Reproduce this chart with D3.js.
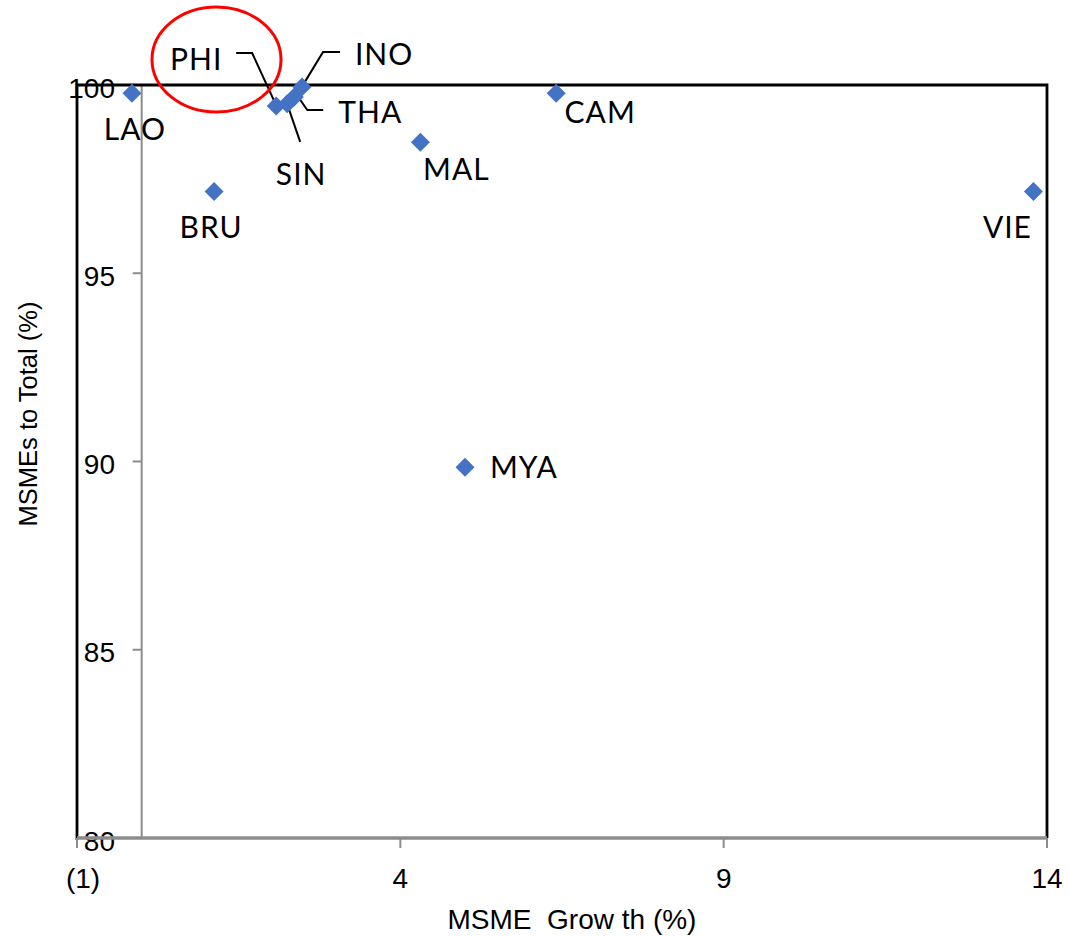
<!DOCTYPE html>
<html>
<head>
<meta charset="utf-8">
<script src="https://cdn.jsdelivr.net/npm/d3@7"></script>
<style>
  body { margin: 0; background: #fff; }
  svg { display: block; }
  .tick-label { font-family: "Liberation Sans", Arial, sans-serif; font-size: 28px; fill: #000; }
  .axis-title { font-family: "Liberation Sans", Arial, sans-serif; font-size: 25px; fill: #000; }
  .point-label { font-family: Lato, "Open Sans", sans-serif; font-size: 30px; fill: #000; letter-spacing: 1px; }
</style>
</head>
<body>
<div id="chart"></div>
<script>

// Data
let countries = ["LAO", "BRU", "PHI", "SIN", "THA", "INO", "MAL", "CAM", "MYA", "VIE"];
let growth = [-0.15, 1.12, 2.08, 2.25, 2.36, 2.48, 4.31, 6.41, 5.0, 13.79];
let share = [99.78, 97.17, 99.44, 99.5, 99.68, 99.95, 98.48, 99.78, 89.85, 97.17];

let xTicks = [-1, 4, 9, 14];
let yTicks = [80, 85, 90, 95, 100];

// label placement (pixels, from point to label centre/baseline)
let labelDx = [3, -3, -80, 14, 76, 82, 36, 44, 59, -26];
let labelDy = [47, 46, -36, 81, 26, -22, 38, 30, 11, 46];

// leader lines for the crowded labels (pixels relative to the point)
let leaders = {
    PHI: [[-40, -53], [-24, -53], [-1, -3]],
    SIN: [[13, 38], [1, 3]],
    INO: [[38, -35], [21, -35], [1, -2]],
    THA: [[29, 13], [13, 13], [4, 0]]
};

let data = countries.map(function(c, i) {
    return { name: c, x: growth[i], y: share[i], dx: labelDx[i], dy: labelDy[i] };
});

let width = 1069, height = 936;
let margin = { top: 85, right: 22, bottom: 98, left: 77 };

let svg = d3.select("#chart").append("svg")
    .attr("width", width)
    .attr("height", height);

let x = d3.scaleLinear()
    .domain([-1, 14])
    .range([margin.left, width - margin.right]);

let y = d3.scaleLinear()
    .domain([80, 100])
    .range([height - margin.bottom, margin.top]);

let fmt = function(d) { return d < 0 ? "(" + Math.abs(d) + ")" : d; };

// gray y axis at x = 0
svg.append("line")
    .attr("x1", x(0)).attr("x2", x(0))
    .attr("y1", y(100)).attr("y2", y(80))
    .attr("stroke", "#8c8c8c")
    .attr("stroke-width", 2);

svg.selectAll(".ytick")
    .data(yTicks.slice(1, 4))
    .enter().append("line")
    .attr("x1", x(0) - 9).attr("x2", x(0))
    .attr("y1", d => y(d)).attr("y2", d => y(d))
    .attr("stroke", "#8c8c8c")
    .attr("stroke-width", 2);

// y tick labels
svg.selectAll(".ylabel")
    .data(yTicks)
    .enter().append("text")
    .attr("class", "tick-label")
    .attr("x", 115)
    .attr("y", d => y(d) + 3)
    .attr("text-anchor", "end")
    .attr("dominant-baseline", "central")
    .text(d => d);

// x tick labels
svg.selectAll(".xlabel")
    .data(xTicks)
    .enter().append("text")
    .attr("class", "tick-label")
    .attr("x", d => x(d) + (d < 0 ? 6 : 0))
    .attr("y", 888)
    .attr("text-anchor", "middle")
    .text(fmt);

// black frame (left, top, right)
svg.append("path")
    .attr("d", "M" + x(-1) + "," + (y(80) + 2) + "V" + y(100) + "H" + x(14) + "V" + y(80))
    .attr("fill", "none")
    .attr("stroke", "#000")
    .attr("stroke-width", 2.8);

// gray x axis
svg.append("line")
    .attr("x1", x(-1)).attr("x2", x(14))
    .attr("y1", y(80)).attr("y2", y(80))
    .attr("stroke", "#8c8c8c")
    .attr("stroke-width", 3.5);

svg.selectAll(".xtick")
    .data(xTicks)
    .enter().append("line")
    .attr("x1", d => x(d)).attr("x2", d => x(d))
    .attr("y1", y(80)).attr("y2", y(80) + 10)
    .attr("stroke", "#8c8c8c")
    .attr("stroke-width", 2);

// axis titles
svg.append("text")
    .attr("class", "axis-title")
    .attr("x", 572)
    .attr("y", 929)
    .attr("text-anchor", "middle")
    .style("font-size", "28px")
    .style("white-space", "pre")
    .text("MSME  Grow th (%)");

svg.append("text")
    .attr("class", "axis-title")
    .attr("transform", "translate(37,414) rotate(-90)")
    .attr("text-anchor", "middle")
    .style("font-size", "25.5px")
    .text("MSMEs to Total (%)");

// leader lines
let line = d3.line();
data.forEach(function(d) {
    if (leaders[d.name]) {
        let px = x(d.x), py = y(d.y);
        svg.append("path")
            .attr("d", line(leaders[d.name].map(p => [px + p[0], py + p[1]])))
            .attr("fill", "none")
            .attr("stroke", "#000")
            .attr("stroke-width", 2);
    }
});

// points
svg.selectAll(".point")
    .data(data)
    .enter().append("path")
    .attr("d", d3.symbol().type(d3.symbolSquare).size(180))
    .attr("transform", d => "translate(" + x(d.x) + "," + y(d.y) + ") rotate(45)")
    .attr("fill", "#4472C4");

// point labels
svg.selectAll(".plabel")
    .data(data)
    .enter().append("text")
    .attr("class", "point-label")
    .attr("x", d => x(d.x) + d.dx)
    .attr("y", d => y(d.y) + d.dy)
    .attr("text-anchor", d => d.name === "MYA" ? "start" : "middle")
    .attr("dx", d => d.name === "MYA" ? -34 : 0)
    .text(d => d.name);

// red highlight ellipse
svg.append("ellipse")
    .attr("cx", 216.5)
    .attr("cy", 59.5)
    .attr("rx", 64.5)
    .attr("ry", 52.5)
    .attr("fill", "none")
    .attr("stroke", "#ff0000")
    .attr("stroke-width", 3);

</script>
</body>
</html>
